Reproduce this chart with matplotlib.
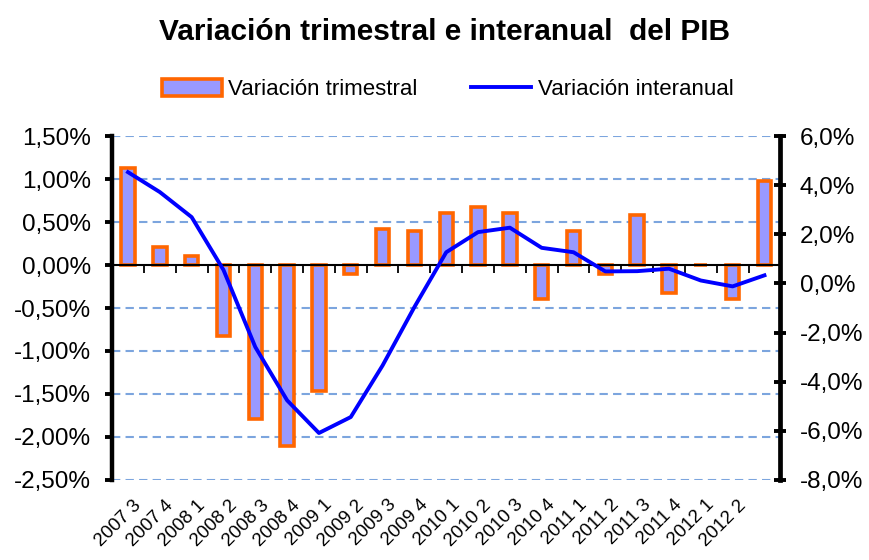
import numpy as np
import matplotlib.pyplot as plt
import matplotlib.ticker as mticker
from matplotlib.lines import Line2D
from matplotlib.patches import Patch

plt.rcParams['font.family'] = ['Liberation Sans', 'DejaVu Sans']

# datos del grafico
trimestres = ['2007 3', '2007 4', '2008 1', '2008 2', '2008 3', '2008 4', '2009 1',
              '2009 2', '2009 3', '2009 4', '2010 1', '2010 2', '2010 3', '2010 4',
              '2011 1', '2011 2', '2011 3', '2011 4', '2012 1', '2012 2', '']
var_trimestral = [1.13, 0.21, 0.11, -0.83, -1.79, -2.10, -1.47, -0.10, 0.42, 0.40, 0.60,
                  0.68, 0.60, -0.40, 0.40, -0.10, 0.58, -0.32, 0.0, -0.40, 0.98]
var_interanual = [4.53, 3.72, 2.70, 0.55, -2.59, -4.76, -6.09, -5.44, -3.34, -0.96, 1.27,
                  2.09, 2.27, 1.45, 1.27, 0.49, 0.50, 0.60, 0.12, -0.12, 0.33]

x = np.arange(len(var_trimestral))

fig = plt.figure(figsize=(8.69, 5.6), dpi=100)
ax = fig.add_axes([0.129, 0.143, 0.769, 0.614])
ax2 = ax.twinx()

ax.bar(x, var_trimestral, width=0.42, color='#9999ff', edgecolor='#ff6600', linewidth=2.6, zorder=3)
ax2.plot(x, var_interanual, color='#0000ff', linewidth=2.8, zorder=4)

# ejes
ax.set_xlim(-0.5, len(x) - 0.5)
ax.set_ylim(-2.5, 1.5)
ax2.set_ylim(-8, 6)
ax.set_yticks(np.arange(-2.5, 1.51, 0.5))
ax2.set_yticks(np.arange(-8, 6.1, 2))
ax.yaxis.set_major_formatter(mticker.FuncFormatter(lambda v, p: f'{v:.2f}%'.replace('.', ',')))
ax2.yaxis.set_major_formatter(mticker.FuncFormatter(lambda v, p: f'{v:.1f}%'.replace('.', ',')))

# rejilla discontinua, sin la linea del cero
for yv in np.arange(-2.5, 1.51, 0.5):
    if abs(yv) > 1e-9:
        ax.axhline(yv, color='#5b8fd6', linestyle=(0, (4, 2.5)), linewidth=1.5, alpha=0.8, zorder=1)
ax.axhline(0, color='black', linewidth=1.5, zorder=5)
ax.plot(x[:-1] + 0.5, np.zeros(len(x) - 1), linestyle='none', marker=3, markersize=6,
        markeredgewidth=1.3, color='black', zorder=5)

for a in (ax, ax2):
    a.spines['top'].set_visible(False)
    a.spines['bottom'].set_visible(False)
ax2.spines['left'].set_visible(False)
ax.spines['right'].set_visible(False)
ax.spines['left'].set_linewidth(3.2)
ax2.spines['right'].set_linewidth(3.4)

ax.tick_params(axis='y', direction='out', length=5, width=2.8, labelsize=17.5, pad=10)
ax2.tick_params(axis='y', direction='inout', length=8, width=2.8, labelsize=17.5, pad=10)

ax.set_xticks(x + 0.15)
ax.set_xticklabels(trimestres, rotation=45, ha='right', va='top', rotation_mode='anchor', fontsize=13.5)
ax.tick_params(axis='x', length=0, pad=12)

fig.text(0.512, 0.943, 'Variación trimestral e interanual  del PIB', ha='center', va='center',
         fontsize=21.5, fontweight='bold')

handles = [Patch(facecolor='#9999ff', edgecolor='#ff6600', linewidth=2.6, label='Variación trimestral'),
           Line2D([0], [0], color='#0000ff', linewidth=2.8, label='Variación interanual')]
fig.legend(handles=handles, loc='center', bbox_to_anchor=(0.515, 0.84), ncol=2, frameon=False,
           fontsize=16, handlelength=2.7, handleheight=0.8, handletextpad=0.3, columnspacing=2.4)

fig.savefig('out.png', dpi=100)
